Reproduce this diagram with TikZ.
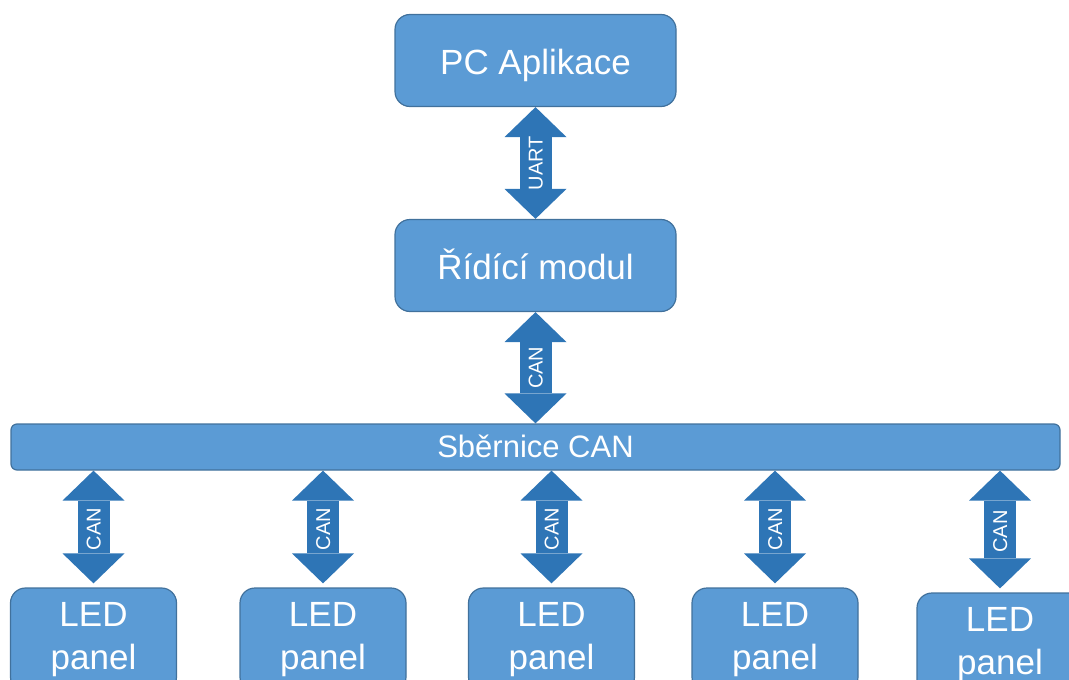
\documentclass[tikz,border=0pt]{standalone}
\usepackage{fontspec}
\setmainfont{Liberation Sans}
\usetikzlibrary{arrows.meta,positioning}

\definecolor{boxblue}{HTML}{5B9BD5}
\definecolor{boxline}{HTML}{41719C}
\definecolor{arrowblue}{HTML}{2E75B6}

\begin{document}
\begin{tikzpicture}[x=1pt,y=-1pt,
    block/.style={draw=boxline, fill=boxblue, line width=1.2pt, rounded corners=15pt,
        text=white, minimum width=281pt, minimum height=92pt,
        font=\fontsize{35}{43}\selectfont, text height=27pt, text depth=0pt},
    busbar/.style={draw=boxline, fill=boxblue, line width=1.2pt, rounded corners=6pt,
        text=white, minimum width=1049pt, minimum height=46pt,
        font=\fontsize{31}{36}\selectfont, text height=21pt, text depth=0pt},
    panel/.style={draw=boxline, fill=boxblue, line width=1.2pt, rounded corners=15pt,
        text=white, minimum width=166pt, minimum height=104pt, align=center,
        font=\fontsize{35}{43}\selectfont},
    link/.style={draw=arrowblue, line width=32pt,
        {Triangle[length=30pt,width=62pt,line width=0pt]}-{Triangle[length=30pt,width=62pt,line width=0pt]}},
    tag/.style={midway, rotate=90, text=white, inner sep=0pt,
        font=\fontsize{20}{24}\selectfont, text height=14pt, text depth=0pt}]

    \useasboundingbox (0,0) rectangle (1069,680);
    \clip (0,0) rectangle (1069,680);

    % top of the chain
    \node[block] (pc) at (535.5,60.5) {PC Aplikace};
    \node[block] (ridici) at (535.5,265.5) {Řídící modul};
    \node[busbar] (bus) at (535.5,447) {Sběrnice CAN};

    \draw[link] (pc) -- node[tag] {UART} (ridici);
    \draw[link] (ridici) -- node[tag] {CAN} (bus);

    % panels on the bus
    \foreach \x/\y [count=\i] in {93.5/640, 323/640, 551.5/640, 775/640, 1000/645}
        \node[panel] (led\i) at (\x,\y) {LED\\panel};

    \foreach \i in {1,...,5}
        \draw[link, shorten >=4pt] (bus.south -| led\i.north) -- node[tag] {CAN} (led\i.north);
\end{tikzpicture}
\end{document}
